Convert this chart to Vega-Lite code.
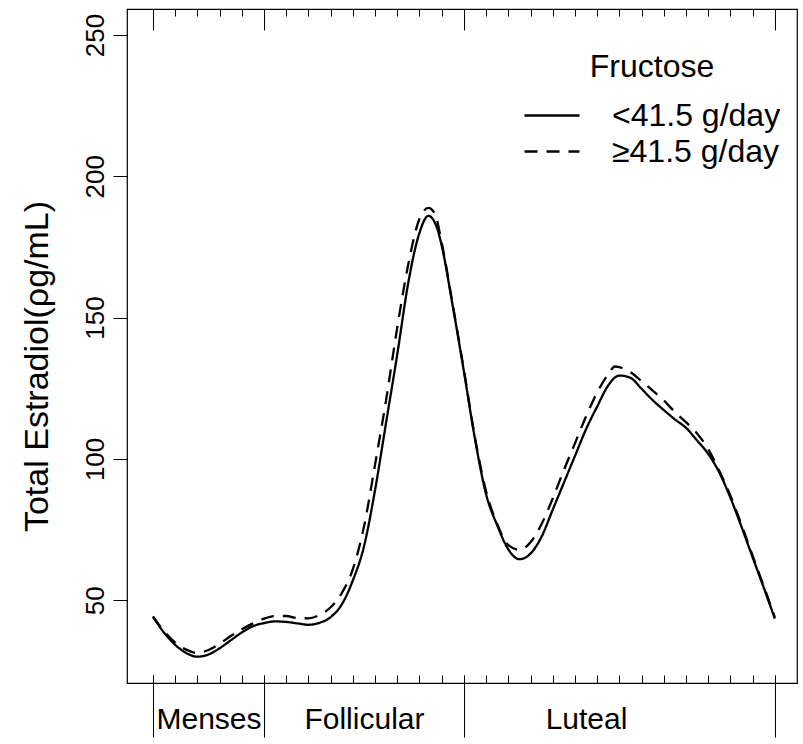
{
  "$schema": "https://vega.github.io/schema/vega-lite/v6.json",
  "width": 670,
  "height": 674,
  "autosize": {"type": "none"},
  "padding": {"left": 127, "top": 9, "right": 6, "bottom": 61},
  "background": "white",
  "config": {
    "view": {"stroke": "black", "strokeWidth": 1.2},
    "font": "Liberation Sans",
    "axis": {"grid": false, "domain": false, "tickColor": "black", "tickWidth": 1, "labelColor": "black", "titleColor": "black", "labelFont": "Liberation Sans", "titleFont": "Liberation Sans", "titleFontWeight": "normal"}
  },
  "datasets": {
    "curves": [
      {"day": 0, "value": 44.1, "group": "<41.5 g/day"},
      {"day": 0.5, "value": 38.5, "group": "<41.5 g/day"},
      {"day": 1, "value": 34.2, "group": "<41.5 g/day"},
      {"day": 1.5, "value": 31.3, "group": "<41.5 g/day"},
      {"day": 2, "value": 30.0, "group": "<41.5 g/day"},
      {"day": 2.5, "value": 30.8, "group": "<41.5 g/day"},
      {"day": 3, "value": 33.0, "group": "<41.5 g/day"},
      {"day": 3.5, "value": 35.8, "group": "<41.5 g/day"},
      {"day": 4, "value": 38.6, "group": "<41.5 g/day"},
      {"day": 4.5, "value": 40.8, "group": "<41.5 g/day"},
      {"day": 5, "value": 41.9, "group": "<41.5 g/day"},
      {"day": 5.5, "value": 42.5, "group": "<41.5 g/day"},
      {"day": 6, "value": 42.3, "group": "<41.5 g/day"},
      {"day": 6.5, "value": 41.8, "group": "<41.5 g/day"},
      {"day": 7, "value": 41.3, "group": "<41.5 g/day"},
      {"day": 7.5, "value": 42.0, "group": "<41.5 g/day"},
      {"day": 8, "value": 44.0, "group": "<41.5 g/day"},
      {"day": 8.5, "value": 48.5, "group": "<41.5 g/day"},
      {"day": 9, "value": 57, "group": "<41.5 g/day"},
      {"day": 9.5, "value": 69, "group": "<41.5 g/day"},
      {"day": 10, "value": 89, "group": "<41.5 g/day"},
      {"day": 10.5, "value": 113, "group": "<41.5 g/day"},
      {"day": 11, "value": 137, "group": "<41.5 g/day"},
      {"day": 11.5, "value": 162.5, "group": "<41.5 g/day"},
      {"day": 12, "value": 180, "group": "<41.5 g/day"},
      {"day": 12.4, "value": 186, "group": "<41.5 g/day"},
      {"day": 12.8, "value": 181.5, "group": "<41.5 g/day"},
      {"day": 13, "value": 175.5, "group": "<41.5 g/day"},
      {"day": 13.5, "value": 154, "group": "<41.5 g/day"},
      {"day": 14, "value": 131, "group": "<41.5 g/day"},
      {"day": 14.5, "value": 107, "group": "<41.5 g/day"},
      {"day": 15, "value": 87.5, "group": "<41.5 g/day"},
      {"day": 15.5, "value": 76.5, "group": "<41.5 g/day"},
      {"day": 16, "value": 68, "group": "<41.5 g/day"},
      {"day": 16.5, "value": 64.5, "group": "<41.5 g/day"},
      {"day": 17, "value": 66.5, "group": "<41.5 g/day"},
      {"day": 17.5, "value": 72.5, "group": "<41.5 g/day"},
      {"day": 18, "value": 82, "group": "<41.5 g/day"},
      {"day": 18.5, "value": 91.5, "group": "<41.5 g/day"},
      {"day": 19, "value": 101, "group": "<41.5 g/day"},
      {"day": 19.5, "value": 110.5, "group": "<41.5 g/day"},
      {"day": 20, "value": 118.5, "group": "<41.5 g/day"},
      {"day": 20.5, "value": 126, "group": "<41.5 g/day"},
      {"day": 21, "value": 129.5, "group": "<41.5 g/day"},
      {"day": 21.5, "value": 128.7, "group": "<41.5 g/day"},
      {"day": 22, "value": 124.8, "group": "<41.5 g/day"},
      {"day": 22.5, "value": 120.8, "group": "<41.5 g/day"},
      {"day": 23, "value": 117.3, "group": "<41.5 g/day"},
      {"day": 23.5, "value": 114, "group": "<41.5 g/day"},
      {"day": 24, "value": 111, "group": "<41.5 g/day"},
      {"day": 24.5, "value": 106.5, "group": "<41.5 g/day"},
      {"day": 25, "value": 101.8, "group": "<41.5 g/day"},
      {"day": 25.5, "value": 95.2, "group": "<41.5 g/day"},
      {"day": 26, "value": 86.3, "group": "<41.5 g/day"},
      {"day": 26.5, "value": 76, "group": "<41.5 g/day"},
      {"day": 27, "value": 65.2, "group": "<41.5 g/day"},
      {"day": 27.5, "value": 54.5, "group": "<41.5 g/day"},
      {"day": 28, "value": 43.5, "group": "<41.5 g/day"},
      {"day": 0, "value": 44.3, "group": "≥41.5 g/day"},
      {"day": 0.5, "value": 39, "group": "≥41.5 g/day"},
      {"day": 1, "value": 35, "group": "≥41.5 g/day"},
      {"day": 1.5, "value": 32.5, "group": "≥41.5 g/day"},
      {"day": 2, "value": 31.3, "group": "≥41.5 g/day"},
      {"day": 2.5, "value": 32.4, "group": "≥41.5 g/day"},
      {"day": 3, "value": 34.6, "group": "≥41.5 g/day"},
      {"day": 3.5, "value": 37.3, "group": "≥41.5 g/day"},
      {"day": 4, "value": 39.7, "group": "≥41.5 g/day"},
      {"day": 4.5, "value": 41.8, "group": "≥41.5 g/day"},
      {"day": 5, "value": 43.5, "group": "≥41.5 g/day"},
      {"day": 5.5, "value": 44.4, "group": "≥41.5 g/day"},
      {"day": 6, "value": 44.4, "group": "≥41.5 g/day"},
      {"day": 6.5, "value": 43.7, "group": "≥41.5 g/day"},
      {"day": 7, "value": 43.6, "group": "≥41.5 g/day"},
      {"day": 7.5, "value": 44.8, "group": "≥41.5 g/day"},
      {"day": 8, "value": 47.5, "group": "≥41.5 g/day"},
      {"day": 8.5, "value": 52.5, "group": "≥41.5 g/day"},
      {"day": 9, "value": 61, "group": "≥41.5 g/day"},
      {"day": 9.5, "value": 76, "group": "≥41.5 g/day"},
      {"day": 10, "value": 98, "group": "≥41.5 g/day"},
      {"day": 10.5, "value": 121, "group": "≥41.5 g/day"},
      {"day": 11, "value": 146.5, "group": "≥41.5 g/day"},
      {"day": 11.5, "value": 169, "group": "≥41.5 g/day"},
      {"day": 12, "value": 185, "group": "≥41.5 g/day"},
      {"day": 12.4, "value": 188.8, "group": "≥41.5 g/day"},
      {"day": 12.7, "value": 186.6, "group": "≥41.5 g/day"},
      {"day": 13, "value": 176.5, "group": "≥41.5 g/day"},
      {"day": 13.5, "value": 154.5, "group": "≥41.5 g/day"},
      {"day": 14, "value": 131.5, "group": "≥41.5 g/day"},
      {"day": 14.5, "value": 107.5, "group": "≥41.5 g/day"},
      {"day": 15, "value": 88.5, "group": "≥41.5 g/day"},
      {"day": 15.5, "value": 77, "group": "≥41.5 g/day"},
      {"day": 16, "value": 69.5, "group": "≥41.5 g/day"},
      {"day": 16.5, "value": 67.8, "group": "≥41.5 g/day"},
      {"day": 17, "value": 70.5, "group": "≥41.5 g/day"},
      {"day": 17.5, "value": 77, "group": "≥41.5 g/day"},
      {"day": 18, "value": 86, "group": "≥41.5 g/day"},
      {"day": 18.5, "value": 96, "group": "≥41.5 g/day"},
      {"day": 19, "value": 105.5, "group": "≥41.5 g/day"},
      {"day": 19.5, "value": 115, "group": "≥41.5 g/day"},
      {"day": 20, "value": 123.5, "group": "≥41.5 g/day"},
      {"day": 20.5, "value": 130, "group": "≥41.5 g/day"},
      {"day": 20.8, "value": 132.7, "group": "≥41.5 g/day"},
      {"day": 21, "value": 132.5, "group": "≥41.5 g/day"},
      {"day": 21.5, "value": 130.7, "group": "≥41.5 g/day"},
      {"day": 22, "value": 127.5, "group": "≥41.5 g/day"},
      {"day": 22.5, "value": 124.2, "group": "≥41.5 g/day"},
      {"day": 23, "value": 120.7, "group": "≥41.5 g/day"},
      {"day": 23.5, "value": 116.6, "group": "≥41.5 g/day"},
      {"day": 24, "value": 113, "group": "≥41.5 g/day"},
      {"day": 24.5, "value": 109, "group": "≥41.5 g/day"},
      {"day": 25, "value": 103.5, "group": "≥41.5 g/day"},
      {"day": 25.5, "value": 95.8, "group": "≥41.5 g/day"},
      {"day": 26, "value": 87, "group": "≥41.5 g/day"},
      {"day": 26.5, "value": 76.7, "group": "≥41.5 g/day"},
      {"day": 27, "value": 65.8, "group": "≥41.5 g/day"},
      {"day": 27.5, "value": 55, "group": "≥41.5 g/day"},
      {"day": 28, "value": 44, "group": "≥41.5 g/day"}
    ],
    "days": [
      {"day": 0}, {"day": 1}, {"day": 2}, {"day": 3}, {"day": 4}, {"day": 5}, {"day": 6}, {"day": 7}, {"day": 8}, {"day": 9},
      {"day": 10}, {"day": 11}, {"day": 12}, {"day": 13}, {"day": 14}, {"day": 15}, {"day": 16}, {"day": 17}, {"day": 18}, {"day": 19},
      {"day": 20}, {"day": 21}, {"day": 22}, {"day": 23}, {"day": 24}, {"day": 25}, {"day": 26}, {"day": 27}, {"day": 28}
    ],
    "phases": [{"day": 0}, {"day": 5}, {"day": 14}, {"day": 28}],
    "labels": [
      {"day": 2.5, "phase": "Menses"},
      {"day": 9.5, "phase": "Follicular"},
      {"day": 19.5, "phase": "Luteal"}
    ]
  },
  "layer": [
    {
      "data": {"name": "curves"},
      "mark": {"type": "line", "interpolate": "monotone", "color": "black", "strokeWidth": 2.3},
      "encoding": {
        "x": {
          "field": "day", "type": "quantitative",
          "scale": {"domain": [-1.17, 29.0], "nice": false, "zero": false},
          "axis": {"orient": "bottom", "values": [0,1,2,3,4,5,6,7,8,9,10,11,12,13,14,15,16,17,18,19,20,21,22,23,24,25,26,27,28], "labels": false, "tickSize": -8, "title": null}
        },
        "y": {
          "field": "value", "type": "quantitative",
          "scale": {"domain": [20.7, 259.2], "nice": false, "zero": false},
          "axis": {
            "values": [50, 100, 150, 200, 250], "tickSize": 14, "labelAngle": -90, "labelAlign": "center", "labelBaseline": "bottom",
            "labelFontSize": 26, "labelPadding": 5, "title": "Total Estradiol(ρg/mL)", "titleFontSize": 34, "titlePadding": 28, "titleY": 357
          }
        },
        "strokeDash": {
          "field": "group", "type": "nominal",
          "scale": {"domain": ["<41.5 g/day", "≥41.5 g/day"], "range": [[1, 0], [13, 9]]},
          "legend": {
            "title": "Fructose", "orient": "none", "legendX": 396, "legendY": 43,
            "titleFontSize": 32, "titleFontWeight": "normal", "titleAnchor": "middle", "titlePadding": 16,
            "labelFontSize": 32, "labelOffset": 31, "labelLimit": 0, "labelColor": "black", "titleColor": "black",
            "symbolType": "stroke", "symbolSize": 3025, "symbolStrokeWidth": 2.3, "symbolStrokeColor": "black",
            "clipHeight": 31, "rowPadding": 3, "padding": 0
          }
        }
      }
    },
    {
      "data": {"name": "days"},
      "mark": {"type": "rule", "strokeOpacity": 0},
      "encoding": {
        "x": {
          "field": "day", "type": "quantitative",
          "scale": {"domain": [-1.17, 29.0], "nice": false, "zero": false},
          "axis": {"orient": "top", "values": [0,1,2,3,4,5,6,7,8,9,10,11,12,13,14,15,16,17,18,19,20,21,22,23,24,25,26,27,28], "labels": false, "tickSize": -7, "title": null}
        }
      }
    },
    {
      "data": {"name": "phases"},
      "mark": {"type": "rule", "strokeOpacity": 0},
      "encoding": {
        "x": {
          "field": "day", "type": "quantitative",
          "scale": {"domain": [-1.17, 29.0], "nice": false, "zero": false},
          "axis": {"orient": "top", "values": [0, 5, 14, 28], "labels": false, "tickSize": -21, "title": null}
        }
      }
    },
    {
      "data": {"name": "phases"},
      "mark": {"type": "rule", "strokeOpacity": 0},
      "encoding": {
        "x": {
          "field": "day", "type": "quantitative",
          "scale": {"domain": [-1.17, 29.0], "nice": false, "zero": false},
          "axis": {"orient": "bottom", "values": [0, 5, 14, 28], "labels": false, "offset": 54, "tickSize": -62, "title": null}
        }
      }
    },
    {
      "data": {"name": "labels"},
      "mark": {"type": "rule", "strokeOpacity": 0},
      "encoding": {
        "x": {
          "field": "day", "type": "quantitative",
          "scale": {"domain": [-1.17, 29.0], "nice": false, "zero": false},
          "axis": {
            "orient": "bottom", "values": [2.5, 9.5, 19.5],
            "labelExpr": "datum.value == 2.5 ? 'Menses' : datum.value == 9.5 ? 'Follicular' : 'Luteal'",
            "ticks": false, "tickSize": 0, "labelPadding": 21, "labelFontSize": 30, "labelBaseline": "top", "title": null
          }
        }
      }
    }
  ],
  "resolve": {"axis": {"x": "independent"}}
}
